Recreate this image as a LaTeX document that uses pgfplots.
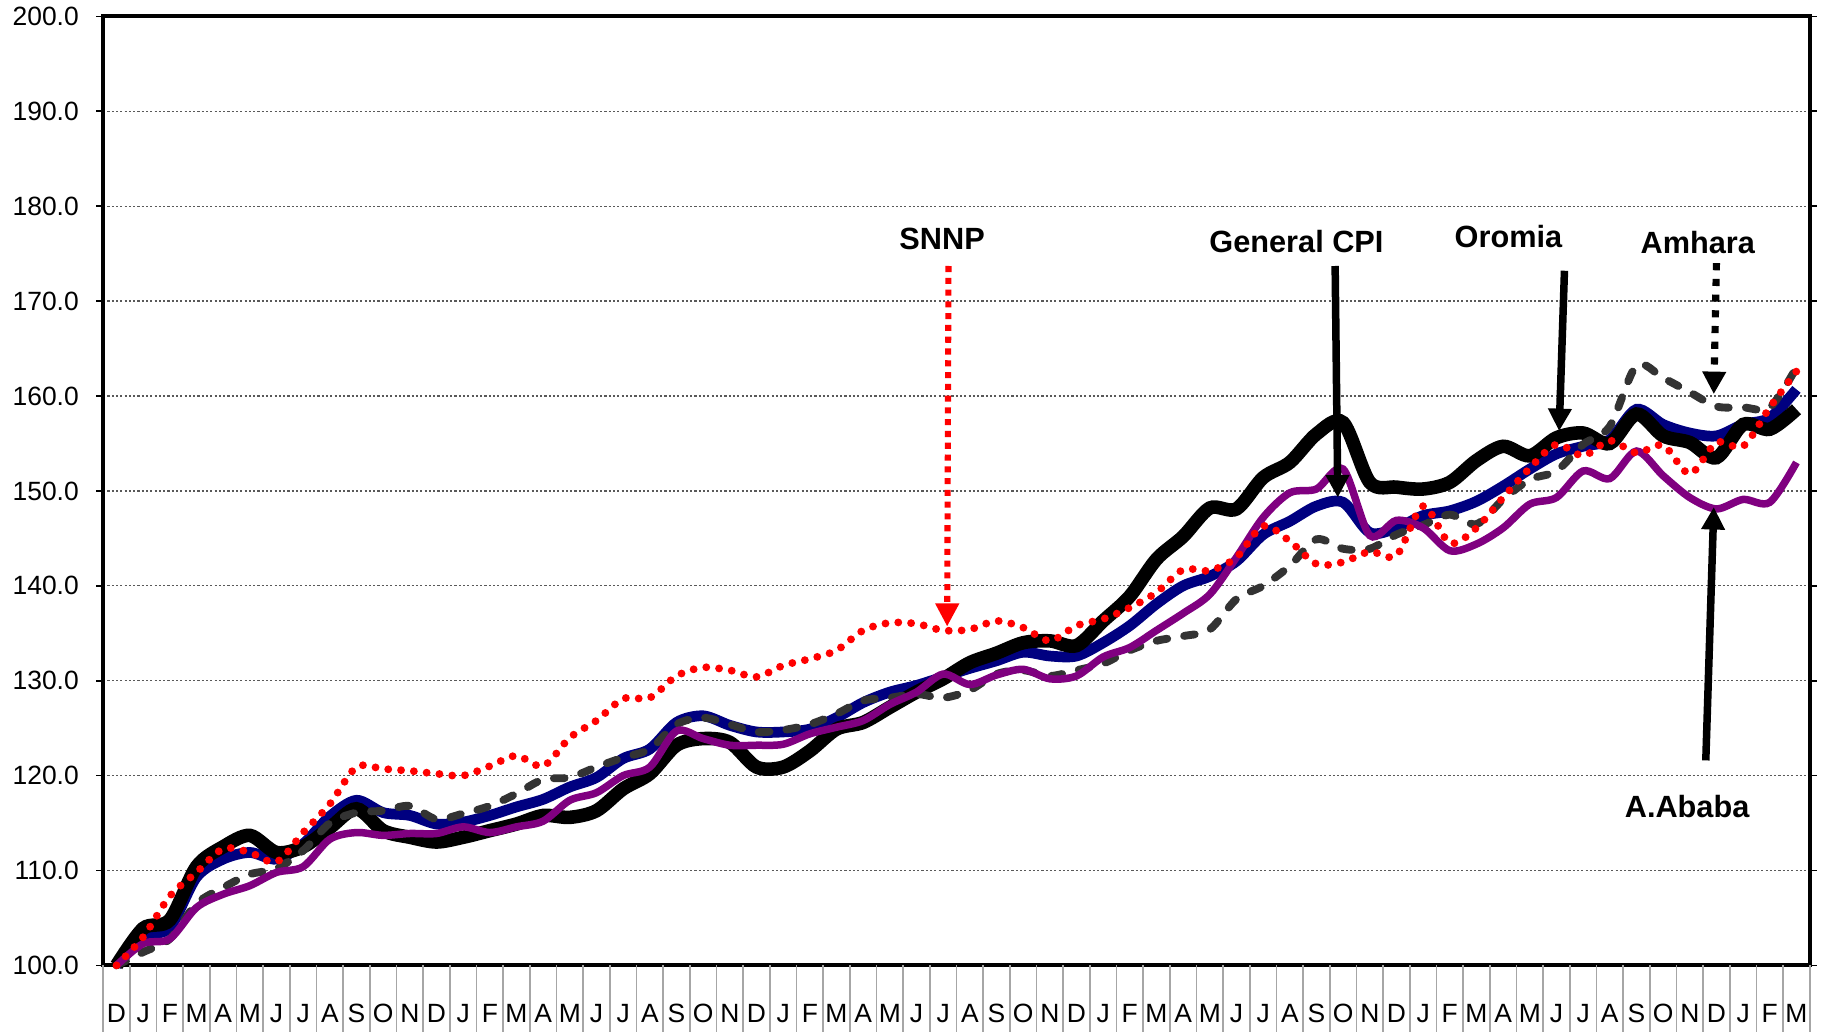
\documentclass[border=0pt]{standalone}
\usepackage{fontspec}
\setmainfont{Liberation Sans}
\usepackage{pgfplots}
\pgfplotsset{compat=1.18}
\usepackage{pgfplotstable}
\usetikzlibrary{arrows.meta}
\definecolor{cpiblue}{RGB}{0,0,128}
\definecolor{aapurple}{RGB}{128,0,128}
\definecolor{amgray}{RGB}{51,51,51}

\pgfplotstableread{
i cpi oro amh aab snnp
0 100.0 100.0 100.0 100.0 100.0
1 103.0 103.9 101.4 102.3 103.0
2 104.0 104.8 102.8 102.8 107.3
3 109.3 110.4 106.5 106.1 109.8
4 111.2 112.5 108.2 107.5 112.3
5 111.9 113.7 109.6 108.4 111.9
6 111.2 111.9 110.2 109.8 110.9
7 112.8 112.5 112.1 110.4 114.0
8 115.7 114.5 115.0 113.3 117.0
9 117.4 116.5 116.1 114.0 120.9
10 116.1 114.2 116.3 113.7 120.7
11 115.8 113.5 116.8 113.9 120.5
12 114.9 113.0 115.4 113.9 120.2
13 115.1 113.5 116.0 114.6 120.0
14 115.8 114.2 116.8 114.0 121.0
15 116.7 114.9 118.1 114.6 122.1
16 117.5 115.8 119.6 115.2 121.0
17 118.8 115.6 119.8 117.4 124.0
18 119.8 116.3 120.9 118.2 125.8
19 121.8 118.6 121.9 120.0 128.1
20 122.8 120.2 122.8 120.9 128.2
21 125.6 123.2 125.4 124.7 130.5
22 126.3 123.9 126.1 123.9 131.4
23 125.3 123.5 125.4 123.2 131.1
24 124.6 120.9 124.6 123.2 130.4
25 124.6 120.9 124.8 123.3 131.6
26 124.9 122.6 125.4 124.4 132.3
27 126.1 124.9 126.5 125.1 133.2
28 127.7 125.6 127.9 125.8 135.3
29 128.8 127.2 128.2 127.5 136.1
30 129.5 128.8 128.6 128.8 136.0
31 130.4 130.2 128.2 130.7 135.3
32 131.3 131.9 129.0 129.6 135.4
33 132.1 132.9 130.7 130.6 136.3
34 133.0 134.0 131.1 131.2 135.6
35 132.6 134.2 130.5 130.2 134.2
36 132.6 133.7 131.1 130.5 135.8
37 134.0 136.3 131.8 132.5 136.5
38 135.8 138.9 133.2 133.5 137.7
39 138.1 142.8 134.2 135.3 139.3
40 140.0 145.2 134.7 137.1 141.7
41 141.0 148.2 135.4 139.1 141.6
42 142.6 148.1 138.6 143.0 143.0
43 145.4 151.4 140.0 147.2 146.3
44 146.8 153.0 142.1 149.8 144.7
45 148.4 156.0 144.9 150.2 142.3
46 148.8 157.2 143.9 152.3 142.5
47 145.6 150.9 143.9 145.3 143.6
48 146.1 150.4 145.4 146.9 143.2
49 147.4 150.2 146.4 146.1 148.4
50 147.9 150.9 147.5 143.7 144.5
51 148.9 153.2 146.5 144.4 146.1
52 150.5 154.7 149.1 146.1 149.3
53 152.3 153.7 151.2 148.6 152.4
54 153.9 155.6 152.1 149.3 154.9
55 154.7 156.1 154.9 152.1 153.7
56 155.4 155.0 156.8 151.3 155.3
57 158.6 158.1 163.2 154.2 154.0
58 157.0 155.8 161.9 151.6 154.8
59 156.1 155.1 160.4 149.3 151.8
60 155.8 153.5 158.9 148.1 155.1
61 157.0 157.0 158.8 149.1 154.7
62 157.7 156.5 158.8 148.8 158.8
63 160.7 158.6 163.0 153.0 162.6
}\data

\begin{document}
\begin{tikzpicture}
\useasboundingbox (-28.9pt,-18.4pt) rectangle (483.1pt,270.4pt);
\begin{axis}[
  at={(0,0)}, anchor=south west,
  scale only axis, width=478pt, height=265.8pt,
  xmin=-0.5, xmax=63.5, ymin=100, ymax=200,
  clip=false,
  axis line style={line width=1.1pt},
  tick align=outside, major tick length=2pt,
  xtick={0,...,63},
  xticklabels={D,J,F,M,A,M,J,J,A,S,O,N,D,J,F,M,A,M,J,J,A,S,O,N,D,J,F,M,A,M,J,J,A,S,O,N,D,J,F,M,A,M,J,J,A,S,O,N,D,J,F,M,A,M,J,J,A,S,O,N,D,J,F,M},
  xtick style={draw=none},
  xticklabel style={anchor=center, yshift=-11.4pt, text height=5.3pt, text depth=0pt, inner sep=0pt, font=\fontsize{7.4}{8}\selectfont},
  ytick={100,110,...,200},
  ytick style={black, line width=0.5pt},
  yticklabel style={xshift=-1.3pt, font=\fontsize{7.4}{8}\selectfont, /pgf/number format/.cd, fixed, fixed zerofill, precision=1, assume math mode=true},
  ymajorgrids,
  major grid style={line width=0.35pt, gray!70!black, dash pattern=on 0.6pt off 0.6pt},
]
\pgfplotsinvokeforeach{0,...,64}{\draw[gray!70, line width=0.5pt] (axis cs:{#1-0.5},100) -- ++(0pt,-19pt);}
\addplot[cpiblue, line width=3.0pt, smooth] table[x=i,y=cpi]{\data};
\addplot[black, line width=3.8pt, smooth] table[x=i,y=oro]{\data};
\addplot[amgray, line width=2.2pt, smooth, line cap=round, dash pattern=on 3pt off 4.8pt] table[x=i,y=amh]{\data};
\addplot[aapurple, line width=2.1pt, smooth] table[x=i,y=aab]{\data};
\addplot[red, line width=2.2pt, smooth, line cap=round, dash pattern=on 0pt off 3.6pt] table[x=i,y=snnp]{\data};

\tikzset{annot/.style={font=\fontsize{8.6}{10}\selectfont\bfseries}}
\node[annot] at (axis cs:30.96,176.5) {SNNP};
\node[annot] at (axis cs:44.25,176.3) {General CPI};
\node[annot] at (axis cs:52.2,176.8) {Oromia};
\node[annot] at (axis cs:59.3,176.2) {Amhara};
\node[annot] at (axis cs:58.9,116.7) {A.Ababa};

\draw[red, line width=1.7pt, dash pattern=on 1.7pt off 1.6pt, -{Triangle[width=6.3pt,length=6.5pt]}] (axis cs:31.2,173.7) -- (axis cs:31.15,135.7);
\draw[black, line width=2.1pt, -{Triangle[width=6.3pt,length=6.3pt]}] (axis cs:45.7,173.7) -- (axis cs:45.8,149.3);
\draw[black, line width=2.1pt, -{Triangle[width=6.3pt,length=6.3pt]}] (axis cs:54.3,173.2) -- (axis cs:54.1,156.3);
\draw[black, line width=2pt, dash pattern=on 2pt off 2.4pt, -{Triangle[width=6.3pt,length=6.3pt]}] (axis cs:60.0,174.0) -- (axis cs:59.9,160.2);
\draw[black, line width=2.1pt, -{Triangle[width=6.3pt,length=6.3pt]}] (axis cs:59.6,121.6) -- (axis cs:59.9,148.3);
\end{axis}
\end{tikzpicture}
\end{document}
